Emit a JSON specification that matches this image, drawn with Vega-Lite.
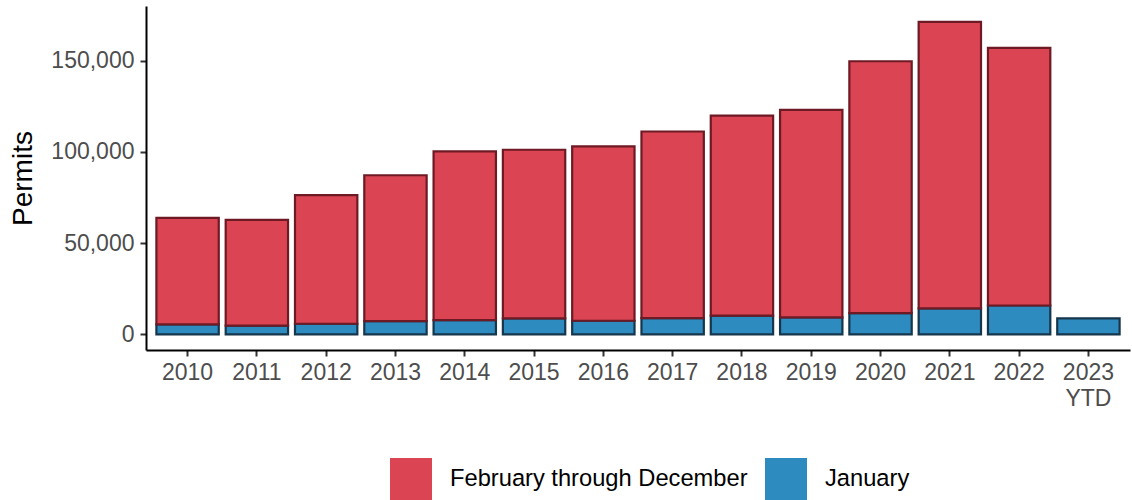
{
  "$schema": "https://vega.github.io/schema/vega-lite/v6.json",
  "width": 984,
  "height": 344,
  "autosize": {"type": "none"},
  "padding": {"left": 146, "top": 6, "right": 2, "bottom": 150},
  "background": "white",
  "config": {
    "view": {"stroke": null},
    "font": "Liberation Sans",
    "axis": {"grid": false, "domainColor": "black", "domainWidth": 2, "tickColor": "#333333", "tickWidth": 2, "tickSize": 6, "labelColor": "#4d4d4d", "labelFontSize": 23, "labelFont": "Liberation Sans", "titleFont": "Liberation Sans", "titleFontWeight": "normal", "titleColor": "black", "titleFontSize": 28}
  },
  "data": {
    "values": [
      {"year": "2010", "series": "January", "permits": 5450},
      {"year": "2010", "series": "February through December", "permits": 58350},
      {"year": "2011", "series": "January", "permits": 4750},
      {"year": "2011", "series": "February through December", "permits": 57950},
      {"year": "2012", "series": "January", "permits": 5800},
      {"year": "2012", "series": "February through December", "permits": 70500},
      {"year": "2013", "series": "January", "permits": 7250},
      {"year": "2013", "series": "February through December", "permits": 79950},
      {"year": "2014", "series": "January", "permits": 7800},
      {"year": "2014", "series": "February through December", "permits": 92500},
      {"year": "2015", "series": "January", "permits": 8700},
      {"year": "2015", "series": "February through December", "permits": 92500},
      {"year": "2016", "series": "January", "permits": 7450},
      {"year": "2016", "series": "February through December", "permits": 95550},
      {"year": "2017", "series": "January", "permits": 8900},
      {"year": "2017", "series": "February through December", "permits": 102300},
      {"year": "2018", "series": "January", "permits": 10200},
      {"year": "2018", "series": "February through December", "permits": 109700},
      {"year": "2019", "series": "January", "permits": 9270},
      {"year": "2019", "series": "February through December", "permits": 113730},
      {"year": "2020", "series": "January", "permits": 11600},
      {"year": "2020", "series": "February through December", "permits": 138100},
      {"year": "2021", "series": "January", "permits": 14200},
      {"year": "2021", "series": "February through December", "permits": 157100},
      {"year": "2022", "series": "January", "permits": 15800},
      {"year": "2022", "series": "February through December", "permits": 141200},
      {"year": "2023 YTD", "series": "January", "permits": 8700}
    ]
  },
  "mark": {"type": "bar", "strokeWidth": 2.2},
  "encoding": {
    "x": {
      "field": "year", "type": "nominal", "title": null,
      "scale": {"paddingInner": 0.1, "paddingOuter": 0.15},
      "axis": {"labelAngle": 0, "labelPadding": 5, "labelExpr": "split(datum.label, ' ')", "labelLineHeight": 26, "labelBaseline": "top"}
    },
    "y": {
      "field": "permits", "type": "quantitative", "title": "Permits", "stack": "zero",
      "scale": {"domain": [-8600, 180000], "nice": false, "zero": false},
      "axis": {"values": [0, 50000, 100000, 150000], "format": ",.0f", "labelPadding": 6, "titlePadding": 13}
    },
    "color": {
      "field": "series", "type": "nominal", "title": null,
      "scale": {"domain": ["February through December", "January"], "range": ["#DA4453", "#2E8BC0"]},
      "legend": {"orient": "none", "legendX": 244, "legendY": 452, "direction": "horizontal", "symbolType": "square", "symbolSize": 1764, "symbolStrokeWidth": 0, "symbolOpacity": 1, "labelFontSize": 23.7, "labelColor": "black", "labelLimit": 500, "labelOffset": 18, "columnPadding": 17}
    },
    "stroke": {
      "field": "series", "type": "nominal",
      "scale": {"domain": ["February through December", "January"], "range": ["#6e1a25", "#16364c"]},
      "legend": null
    },
    "order": {"field": "series", "sort": "descending"}
  }
}
